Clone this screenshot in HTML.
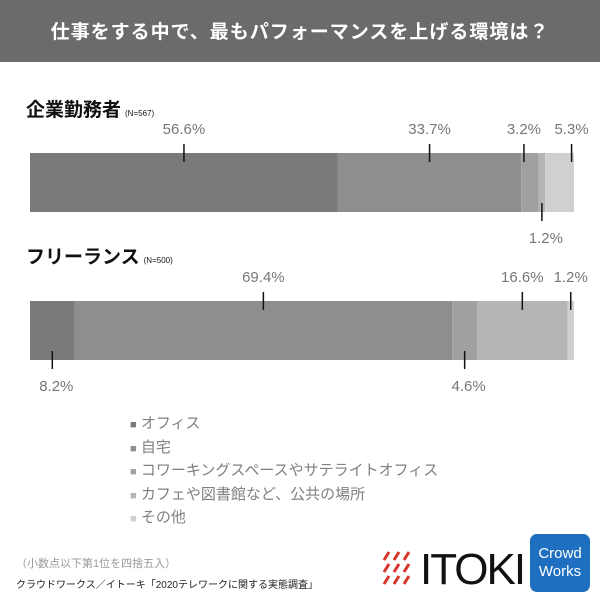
<!DOCTYPE html>
<html><head><meta charset="utf-8"><style>
body{margin:0;width:600px;height:600px;background:#fff;position:relative;overflow:hidden;font-family:"Liberation Sans","Noto Sans CJK JP",sans-serif}
.abs{position:absolute}
</style></head><body>
<div class="abs" style="left:0;top:0;width:600px;height:62px;background:#6b6b6b"></div>
<div class="abs" style="left:0;top:17px;width:600px;text-align:center;color:#fff;font-size:19px;font-weight:bold;letter-spacing:1px">仕事をする中で、最もパフォーマンスを上げる環境は？</div>
<div class="abs" style="left:26px;top:95px;font-size:19px;font-weight:bold;color:#111">企業勤務者<span style="font-size:8px;font-weight:normal;margin-left:4px">(N=567)</span></div>
<div class="abs" style="left:26px;top:242px;font-size:19px;font-weight:bold;color:#111">フリーランス<span style="font-size:8px;font-weight:normal;margin-left:4px">(N=500)</span></div>
<svg class="abs" style="left:0;top:0" width="600" height="600" id="chart"></svg>
<div class="abs" style="left:130px;top:413px;font-size:15px;color:#808080;line-height:22.5px">
<div><span style="color:#7a7a7a;font-size:11px">■</span> オフィス</div>
<div><span style="color:#8e8e8e;font-size:11px">■</span> 自宅</div>
<div><span style="color:#a0a0a0;font-size:11px">■</span> コワーキングスペースやサテライトオフィス</div>
<div><span style="color:#b5b5b5;font-size:11px">■</span> カフェや図書館など、公共の場所</div>
<div><span style="color:#d0d0d0;font-size:11px">■</span> その他</div>
</div>
<div class="abs" style="left:16px;top:555px;font-size:11px;color:#999">（小数点以下第1位を四捨五入）</div>
<div class="abs" style="left:16px;top:576px;font-size:10px;color:#222">クラウドワークス／イトーキ「2020テレワークに関する実態調査」</div>
<div class="abs" style="left:380px;top:548px;height:44px;display:flex;align-items:center">
<svg width="38" height="40"><g stroke="#d9342b" stroke-width="3">
<line x1="4" y1="10" x2="9" y2="2"/><line x1="14" y1="10" x2="19" y2="2"/><line x1="24" y1="10" x2="29" y2="2"/>
<line x1="4" y1="22" x2="9" y2="14"/><line x1="14" y1="22" x2="19" y2="14"/><line x1="24" y1="22" x2="29" y2="14"/>
<line x1="4" y1="34" x2="9" y2="26"/><line x1="14" y1="34" x2="19" y2="26"/><line x1="24" y1="34" x2="29" y2="26"/></g></svg>
<span style="font-size:44px;color:#111;letter-spacing:-2px;margin-left:2px">ITOKI</span></div>
<div class="abs" style="left:530px;top:534px;width:60px;height:58px;background:#1f6fc0;border-radius:7px;color:#fff;font-size:15px;line-height:18px;text-align:center;padding-top:11px;box-sizing:border-box">Crowd<br>Works</div>
<script>
const categories=["オフィス","自宅","コワーキングスペースやサテライトオフィス","カフェや図書館など、公共の場所","その他"];
const employeeValues=[56.6,33.7,3.2,1.2,5.3];
const freelanceValues=[8.2,69.4,4.6,16.6,1.2];
const employeeLabelSide=["top","top","top","bottom","top"];
const freelanceLabelSide=["bottom","top","bottom","top","top"];
const colors=["#7a7a7a","#8e8e8e","#a0a0a0","#b5b5b5","#d0d0d0"];
const employeeNudge=[0,0,-6,0,12];
const freelanceNudge=[0,0,0,0,0];
const svg=document.getElementById('chart');
const NS="http://www.w3.org/2000/svg";
const x0=30,x1=574;
function xs(v){return x0+(x1-x0)*v/100;}
function drawBar(vals,sides,nudge,top,h,key){
  let cum=0;
  vals.forEach((v,i)=>{
    const r=document.createElementNS(NS,'rect');
    r.setAttribute('x',xs(cum));r.setAttribute('y',top);
    r.setAttribute('width',xs(cum+v)-xs(cum));r.setAttribute('height',h);
    r.setAttribute('fill',colors[i]);
    
    
    svg.appendChild(r);
    const c=xs(cum+v/2)+nudge[i];
    const ln=document.createElementNS(NS,'line');
    const up=sides[i]==="top";
    ln.setAttribute('x1',c);ln.setAttribute('x2',c);
    ln.setAttribute('y1',up?top-9:top+h-9);ln.setAttribute('y2',up?top+9:top+h+9);
    ln.setAttribute('stroke','#111');ln.setAttribute('stroke-width','1.5');
    
    
    svg.appendChild(ln);
    const t=document.createElementNS(NS,'text');
    t.setAttribute('x',c+(up?0:4));t.setAttribute('y',up?top-19:top+h+31);
    t.setAttribute('text-anchor','middle');t.setAttribute('font-size','15');
    t.setAttribute('fill','#777');
    t.textContent=v.toFixed(1)+'%';
    
    
    svg.appendChild(t);
    cum+=v;
  });
}
drawBar(employeeValues,employeeLabelSide,employeeNudge,153,59,'employee');
drawBar(freelanceValues,freelanceLabelSide,freelanceNudge,301,59,'freelance');
</script>
</body></html>
